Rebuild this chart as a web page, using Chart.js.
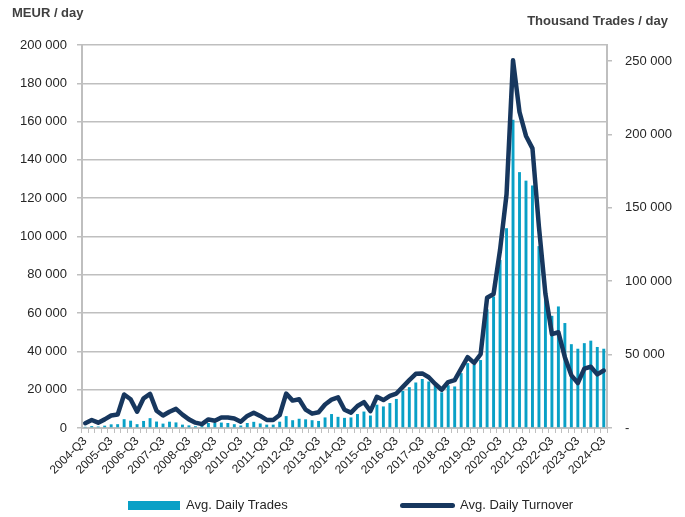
<!DOCTYPE html>
<html><head><meta charset="utf-8">
<script src="https://cdn.jsdelivr.net/npm/chart.js@4.4.1/dist/chart.umd.min.js"></script>
<style>
html,body{margin:0;padding:0;background:#fff;}
#wrap{position:relative;width:685px;height:517px;font-family:"Liberation Sans",Arial,sans-serif;color:#262626;overflow:hidden;}
canvas{position:absolute;left:0;top:0;}
.t{position:absolute;font-weight:bold;font-size:13px;line-height:16px;color:#404040;white-space:nowrap;}
.lg{position:absolute;font-size:13px;line-height:16px;color:#262626;white-space:nowrap;}
.sw{position:absolute;}
</style>
</head><body>
<div id="wrap">
<canvas id="c" width="685" height="517"></canvas>
<div class="t" style="left:12px;top:5px;">MEUR / day</div>
<div class="t" style="right:17px;top:13px;">Thousand Trades / day</div>
<div class="sw" style="left:128px;top:501px;width:52px;height:9px;background:#09a0c6;"></div>
<div class="lg" style="left:186px;top:497px;">Avg. Daily Trades</div>
<div class="sw" style="left:400px;top:503px;width:55px;height:5px;border-radius:3px;background:#17375e;"></div>
<div class="lg" style="left:460px;top:497px;">Avg. Daily Turnover</div>
</div>
<script>
const categories = [
"2004-Q3","2004-Q4",
"2005-Q1","2005-Q2","2005-Q3","2005-Q4",
"2006-Q1","2006-Q2","2006-Q3","2006-Q4",
"2007-Q1","2007-Q2","2007-Q3","2007-Q4",
"2008-Q1","2008-Q2","2008-Q3","2008-Q4",
"2009-Q1","2009-Q2","2009-Q3","2009-Q4",
"2010-Q1","2010-Q2","2010-Q3","2010-Q4",
"2011-Q1","2011-Q2","2011-Q3","2011-Q4",
"2012-Q1","2012-Q2","2012-Q3","2012-Q4",
"2013-Q1","2013-Q2","2013-Q3","2013-Q4",
"2014-Q1","2014-Q2","2014-Q3","2014-Q4",
"2015-Q1","2015-Q2","2015-Q3","2015-Q4",
"2016-Q1","2016-Q2","2016-Q3","2016-Q4",
"2017-Q1","2017-Q2","2017-Q3","2017-Q4",
"2018-Q1","2018-Q2","2018-Q3","2018-Q4",
"2019-Q1","2019-Q2","2019-Q3","2019-Q4",
"2020-Q1","2020-Q2","2020-Q3","2020-Q4",
"2021-Q1","2021-Q2","2021-Q3","2021-Q4",
"2022-Q1","2022-Q2","2022-Q3","2022-Q4",
"2023-Q1","2023-Q2","2023-Q3","2023-Q4",
"2024-Q1","2024-Q2","2024-Q3"];

// Avg. Daily Trades (thousand trades / day) - right axis
const trades = [800,1300,1000,1600,2500,2600,6000,5000,2600,4800,
6700,4400,3000,4300,3800,2300,1800,1200,1300,3400,
3400,3700,3400,2600,1700,3400,4200,3100,2300,2300,
4300,8100,5300,6300,5900,5300,4800,7200,9500,7600,
6900,7200,9500,11200,8500,15900,14700,17000,19800,25300,
27800,31000,33400,31700,28700,24300,29100,28300,37400,44200,
43000,46300,80900,89600,114500,136100,209900,174300,168500,165200,
123900,91300,76400,82800,71500,57100,54000,57800,59500,55200,54000];

// Avg. Daily Turnover (MEUR / day) - left axis
const turnover = [2500,4200,2800,4500,6500,7000,17500,15000,8500,15500,
17800,9000,6500,8500,10000,7000,4500,2800,2000,4500,
3800,5500,5500,5000,3300,6300,8000,6300,4200,4200,
6800,18000,14300,15000,9600,7500,8200,12300,14800,16000,
9500,8000,11500,13500,8800,16300,14600,16800,18000,21500,
25000,28300,28500,26500,23000,20000,24000,25000,31000,37000,
34000,38500,68000,70000,93000,122000,192000,165000,152500,146000,
105000,70000,49000,50000,37000,27500,23500,31000,32000,28000,30000];

const leftTicks = [0,20000,40000,60000,80000,100000,120000,140000,160000,180000,200000];
const rightTicks = [0,50000,100000,150000,200000,250000];

const fmt = v => String(v).replace(/\B(?=(\d{3})+(?!\d))/g, ' ');
const GRID = '#bfbfbf';
const TXT = '#262626';
const FONT = "'Liberation Sans', Arial, sans-serif";

new Chart(document.getElementById('c'), {
  data: {
    labels: categories,
    datasets: [
      {type:'line', label:'Avg. Daily Turnover', data: turnover, yAxisID:'y',
       borderColor:'#17375e', borderWidth:4.5, pointRadius:0, tension:0, order:0,
       borderJoinStyle:'round', borderCapStyle:'round'},
      {type:'bar', label:'Avg. Daily Trades', data: trades, yAxisID:'y2',
       backgroundColor:'#09a0c6', barPercentage:0.45, categoryPercentage:1, order:1}
    ]
  },
  options: {
    responsive:false, maintainAspectRatio:false, animation:false,
    layout:{padding:{top:45,left:0,right:0,bottom:0}},
    plugins:{legend:{display:false}, tooltip:{enabled:false}},
    scales:{
      x:{type:'category', offset:true,
         grid:{offset:true, drawOnChartArea:false, drawTicks:true, tickLength:5, color:GRID, lineWidth:1},
         border:{display:true, color:GRID, width:2},
         ticks:{autoSkip:false, maxRotation:45, minRotation:45, padding:1, color:TXT,
                font:{family:FONT, size:12},
                callback:(v,i)=> i%4===0 ? categories[i] : ''},
         afterFit: s => { s.height = 89; }
      },
      y:{position:'left', min:0, max:200000,
         grid:{color:GRID, lineWidth:1.5, tickLength:5, drawTicks:true},
         border:{display:true, color:GRID, width:2},
         ticks:{padding:10, color:TXT, font:{family:FONT, size:13}, callback:v=>fmt(v)},
         afterBuildTicks: s => { s.ticks = leftTicks.map(v=>({value:v})); },
         afterFit: s => { s.width = 82; }
      },
      y2:{position:'right', min:0, max:260900,
         grid:{drawOnChartArea:false, color:GRID, lineWidth:1.5, tickLength:5, drawTicks:true},
         border:{display:true, color:GRID, width:2},
         ticks:{padding:13, color:TXT, font:{family:FONT, size:13}, callback:v=> v===0 ? '-' : fmt(v)},
         afterBuildTicks: s => { s.ticks = rightTicks.map(v=>({value:v})); },
         afterFit: s => { s.width = 78; }
      }
    }
  }
});
</script>
</body></html>
